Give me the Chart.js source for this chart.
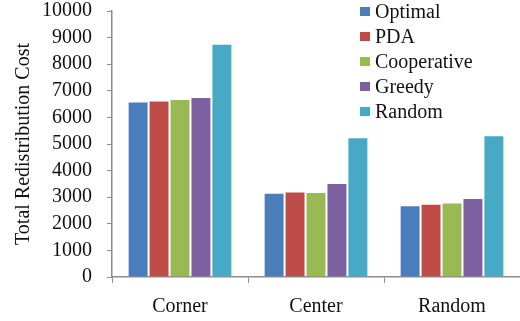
<!DOCTYPE html>
<html>
<head>
<meta charset="utf-8">
<script src="https://cdn.jsdelivr.net/npm/chart.js@4/dist/chart.umd.min.js"></script>
<style>
  html, body { margin: 0; padding: 0; background: #fff; }
  #wrap { width: 520px; height: 321px; }
</style>
</head>
<body>
<div id="wrap"><canvas id="c" width="520" height="321"></canvas></div>
<script>
// Placement scenarios on the x axis
const categories = ['Corner', 'Center', 'Random'];

// Total redistribution cost per algorithm
const optimal     = [6600, 3170, 2700];
const pda         = [6640, 3210, 2750];
const cooperative = [6690, 3200, 2800];
const greedy      = [6770, 3530, 2970];
const randomAlg   = [8770, 5250, 5330];

const seriesNames  = ['Optimal', 'PDA', 'Cooperative', 'Greedy', 'Random'];
const seriesValues = [optimal, pda, cooperative, greedy, randomAlg];
const seriesColors = ['#4A7EBB', '#BE4B48', '#98B954', '#7D60A0', '#46AAC5'];

const yTicks = { min: 0, max: 10000, step: 1000 };

const FONT = '"Liberation Serif", "Times New Roman", serif';
const TEXT = '#111111';
const AXIS = '#8c8c8c';

// Legend drawn inside the plot area, top right
const insideLegend = {
  id: 'insideLegend',
  afterDraw(chart) {
    const ctx = chart.ctx;
    ctx.save();
    ctx.font = '20px ' + FONT;
    ctx.textBaseline = 'middle';
    ctx.textAlign = 'left';
    chart.data.datasets.forEach((ds, i) => {
      const y = 11.5 + i * 25;
      ctx.fillStyle = ds.backgroundColor;
      ctx.fillRect(360, y - 4.5, 10, 9);
      ctx.fillStyle = TEXT;
      ctx.fillText(ds.label, 375, y + 1);
    });
    ctx.restore();
  }
};

new Chart(document.getElementById('c'), {
  type: 'bar',
  data: {
    labels: categories,
    datasets: seriesNames.map((name, i) => ({
      label: name,
      data: seriesValues[i],
      backgroundColor: seriesColors[i],
      borderColor: 'rgba(255,255,255,0.35)',
      borderWidth: 1,
      barPercentage: 1.0,
      categoryPercentage: 0.77
    }))
  },
  options: {
    responsive: false,
    animation: false,
    devicePixelRatio: 1,
    layout: { padding: { top: 11, right: 0, bottom: 0, left: 0 } },
    plugins: {
      legend: { display: false },
      tooltip: { enabled: false }
    },
    scales: {
      x: {
        grid: {
          display: true,
          offset: true,
          drawOnChartArea: false,
          drawTicks: true,
          tickLength: 6,
          color: AXIS
        },
        border: { display: true, color: AXIS, width: 1.5 },
        ticks: {
          color: TEXT,
          font: { family: FONT, size: 20 },
          padding: 12,
          maxRotation: 0
        },
        afterFit(scale) {
          scale.height = 44;
          scale.paddingLeft = 0;
          scale.paddingRight = 0;
        }
      },
      y: {
        min: yTicks.min,
        max: yTicks.max,
        grid: {
          display: true,
          drawOnChartArea: false,
          drawTicks: true,
          tickLength: 5,
          color: AXIS
        },
        border: { display: true, color: AXIS, width: 1.5 },
        ticks: {
          stepSize: yTicks.step,
          autoSkip: false,
          color: TEXT,
          font: { family: FONT, size: 20 },
          padding: 15,
          callback: (v) => String(v)
        },
        title: {
          display: true,
          text: 'Total Redistribution Cost',
          color: TEXT,
          font: { family: FONT, size: 20 },
          padding: { top: 12, bottom: 0 }
        },
        afterFit(scale) {
          scale.width = 112;
          scale.paddingTop = 0;
          scale.paddingBottom = 0;
        }
      }
    }
  },
  plugins: [insideLegend]
});
</script>
</body>
</html>
